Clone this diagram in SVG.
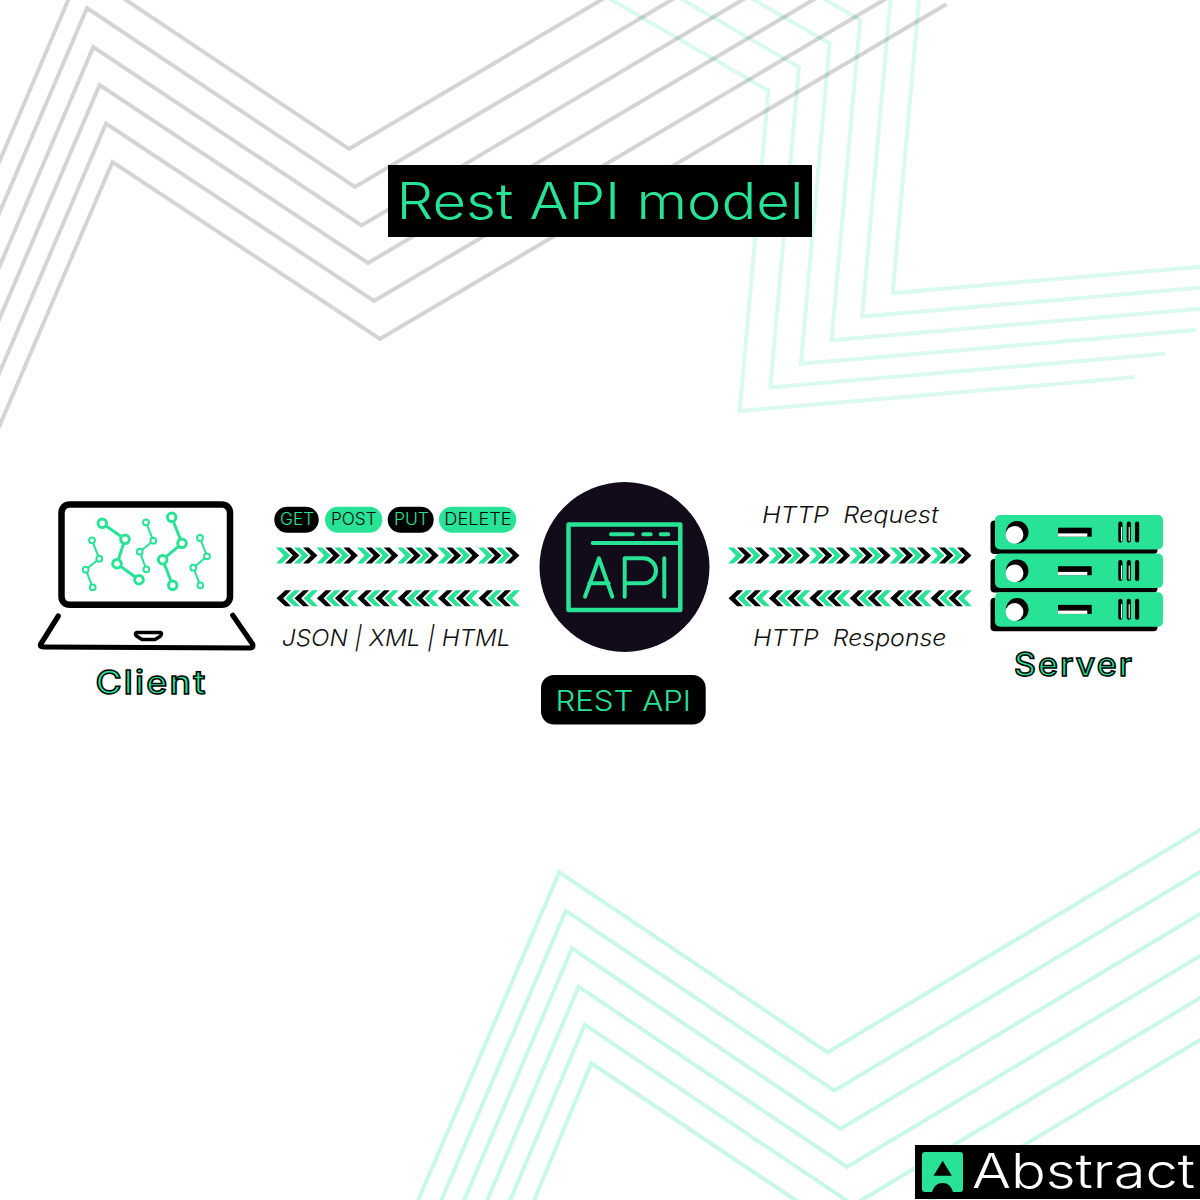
<svg xmlns="http://www.w3.org/2000/svg" width="1200" height="1200" viewBox="0 0 1200 1200">
<style>
text{font-family:"Inter","Liberation Sans",sans-serif;font-weight:300}
.g{fill:none;stroke:#000;stroke-opacity:.17;stroke-width:4}
.mt{fill:none;stroke:#26e39a;stroke-opacity:.17;stroke-width:4}
.mb{fill:none;stroke:#26e39a;stroke-opacity:.25;stroke-width:4}
.gt{fill:#28e296}
.kt{fill:#0a0a0a}
.it{font-style:italic;font-size:23px;fill:#111}
.pill{font-size:17px}
.lab{font-size:32px;font-weight:500;letter-spacing:2px;fill:#28e296;stroke:#000;stroke-width:1.5}
.ln{fill:none;stroke:#28e296;stroke-linecap:round;stroke-linejoin:round}
.net1{fill:#fff;stroke:#28e296;stroke-width:3}
.net2{fill:#fff;stroke:#28e296;stroke-width:2}
.lap{fill:none;stroke:#000;stroke-linecap:round;stroke-linejoin:round}
</style>
<defs>
<polygon id="cg" fill="#28e296" points="0,-8 5.800,-8 14.500,0 5.800,8 0,8 7.800,0"/>
<polygon id="ck" fill="#000" points="0,-8 5.800,-8 14.500,0 5.800,8 0,8 7.800,0"/>
<g id="four"><use href="#cg"/><use href="#cg" x="18"/><use href="#ck" x="9"/><use href="#ck" x="27"/></g>
<g id="row"><use href="#four"/><use href="#four" x="40.400"/><use href="#four" x="80.800"/><use href="#four" x="121.200"/><use href="#four" x="161.600"/><use href="#four" x="202"/></g>
<g id="unit">
<rect x="990.500" y="520.500" width="167" height="33.500" rx="4" fill="#000"/>
<rect x="995" y="515" width="168" height="34.500" rx="5" fill="#28e296"/>
<circle cx="1017.200" cy="532.200" r="11.300" fill="#000"/>
<circle cx="1014.500" cy="534.800" r="8.900" fill="#fff"/>
<rect x="1058" y="527.700" width="33.700" height="9" fill="#000"/>
<rect x="1058" y="533.400" width="29.300" height="3.300" fill="#fff"/>
<rect x="1118.300" y="521.500" width="4.200" height="21" rx="2" fill="#000"/>
<rect x="1126.700" y="521.500" width="4.200" height="21" rx="2" fill="#000"/>
<rect x="1135" y="521.500" width="4.200" height="21" rx="2" fill="#000"/>
<path d="M1121.500 527V541M1129.200 527V541" stroke="#fff" stroke-width="1.100" fill="none"/>
</g>
</defs>
<rect width="1200" height="1200" fill="#fff"/>
<g id="background">
<g id="mint-top">
<polyline class="mt" points="600,-6.600 768.400,90.700 739.700,411 1134.600,377.300"/>
<polyline class="mt" points="640.600,-24.600 799,67.100 770.300,387.400 1165.200,353.700"/>
<polyline class="mt" points="671.200,-48.200 829.600,43.500 800.900,363.800 1195.800,330.100"/>
<polyline class="mt" points="701.800,-71.800 860.200,19.900 831.500,340.200 1226.400,306.500"/>
<polyline class="mt" points="890.800,-3.700 862.100,316.600 1257,282.900"/>
<polyline class="mt" points="921.400,-27.300 892.700,293 1287.600,259.300"/>
</g>
<g id="gray-top">
<polyline class="g" points="-5,172 81,-30 349,149 613,-7"/>
<polyline class="g" points="-5,223 87,8 355,187 685,-8"/>
<polyline class="g" points="-5,277 93.300,47 361.500,225.500 751.500,-5.500"/>
<polyline class="g" points="-5,329 99.600,85 368,263 823,-6"/>
<polyline class="g" points="-5,383 106,123.500 374,301 894,-6"/>
<polyline class="g" points="-4,434 112.500,162 380,339 945,5" stroke-linecap="round"/>
</g>
<g id="mint-bottom">
<polyline class="mb" points="414,1210 559.200,872.300 827.600,1052.300 1210,824"/>
<polyline class="mb" points="437,1210 565.800,910.700 834.200,1090.700 1210,866"/>
<polyline class="mb" points="460,1210 572,948.300 840.300,1129 1210,908"/>
<polyline class="mb" points="483,1210 578.600,986.700 847,1167 1210,950"/>
<polyline class="mb" points="506,1210 584.700,1024.700 853.300,1205 1210,992"/>
<polyline class="mb" points="530,1210 591.300,1063.300 859.600,1243 1210,1034"/>
</g>
</g>
<g id="title">
<rect x="388" y="165" width="424" height="72" fill="#000"/>
<text class="gt" x="396.500" y="218.500" font-size="50" textLength="407" lengthAdjust="spacingAndGlyphs">Rest API model</text>
</g>
<g id="connectors">
<use href="#row" x="276" y="555.400"/>
<use href="#row" transform="translate(520,598.300) scale(-1,1)"/>
<use href="#row" x="728" y="555.600"/>
<use href="#row" transform="translate(972,598.300) scale(-1,1)"/>
</g>
<g id="client">
<rect x="61.500" y="504.500" width="168.500" height="100.300" rx="8" fill="none" stroke="#000" stroke-width="6.500"/>
<path class="lap" stroke-width="5.200" d="M58.300 616 L40.500 644.500 Q40 647 44 647 L250 648 Q254 647.500 252.500 644 L232.700 615.300"/>
<path class="lap" stroke-width="3.500" d="M137 632.500 H160 Q163 633 160 636.500 L155 639.500 H142 L136.500 636 Q134 633.500 137 632.500Z"/>
<path class="ln" stroke-width="3" d="M102.300 523.300 L125 539.300 L117 563.700 L139 579.700M171.700 517.300 L182 543.300 L162.700 559.700 L172.700 585.300"/>
<path class="ln" stroke-width="2" d="M92 540.300 L99.300 558.700 L85.700 569.700 L92.700 587.300M146 522.300 L153.300 540.700 L139.700 551.700 L146.300 569.300M200 538 L207 556.300 L193.300 567.700 L200.300 585.300"/>
<g class="net1"><circle cx="102.300" cy="523.300" r="4.300"/><circle cx="125" cy="539.300" r="4.300"/><circle cx="117" cy="563.700" r="4.300"/><circle cx="139" cy="579.700" r="4.300"/><circle cx="171.700" cy="517.300" r="4.300"/><circle cx="182" cy="543.300" r="4.300"/><circle cx="162.700" cy="559.700" r="4.300"/><circle cx="172.700" cy="585.300" r="4.300"/></g>
<g class="net2"><circle cx="92" cy="540.300" r="2.900"/><circle cx="99.300" cy="558.700" r="2.900"/><circle cx="85.700" cy="569.700" r="2.900"/><circle cx="92.700" cy="587.300" r="2.900"/><circle cx="146" cy="522.300" r="2.900"/><circle cx="153.300" cy="540.700" r="2.900"/><circle cx="139.700" cy="551.700" r="2.900"/><circle cx="146.300" cy="569.300" r="2.900"/><circle cx="200" cy="538" r="2.900"/><circle cx="207" cy="556.300" r="2.900"/><circle cx="193.300" cy="567.700" r="2.900"/><circle cx="200.300" cy="585.300" r="2.900"/></g>
<text class="lab" x="95.500" y="693.500" textLength="112" lengthAdjust="spacingAndGlyphs">Client</text>
</g>
<g id="methods">
<g id="m-get"><rect x="274.300" y="506.700" width="44.400" height="26" rx="13" fill="#000"/><text class="gt pill" x="280" y="525.300" textLength="34.300" lengthAdjust="spacingAndGlyphs">GET</text></g>
<g id="m-post"><rect x="325" y="506.700" width="57.300" height="26" rx="13" fill="#28e296"/><text class="kt pill" x="331" y="525.300" textLength="45.700" lengthAdjust="spacingAndGlyphs">POST</text></g>
<g id="m-put"><rect x="387.700" y="506.700" width="46" height="26" rx="13" fill="#000"/><text class="gt pill" x="394" y="525.300" textLength="35" lengthAdjust="spacingAndGlyphs">PUT</text></g>
<g id="m-delete"><rect x="439" y="506.700" width="77.300" height="26" rx="13" fill="#28e296"/><text class="kt pill" x="444.300" y="525.300" textLength="67.400" lengthAdjust="spacingAndGlyphs">DELETE</text></g>
</g>
<g id="labels">
<text class="it" x="282" y="646" textLength="228.500" lengthAdjust="spacingAndGlyphs">JSON | XML | HTML</text>
<text class="it" x="762" y="523" xml:space="preserve" textLength="176.500" lengthAdjust="spacingAndGlyphs">HTTP  Request</text>
<text class="it" x="753" y="646" xml:space="preserve" textLength="193.500" lengthAdjust="spacingAndGlyphs">HTTP  Response</text>
</g>
<g id="rest-api">
<circle cx="624.500" cy="567" r="85" fill="#110b1a"/>
<path class="ln" stroke-width="4.500" d="M568.500 524.600H680.300V610H568.500Z"/>
<path class="ln" stroke-width="4" d="M592.700 543H678M611 534.300H632.700M643.300 534.300H650.700M660.700 534.300H668.300"/>
<path class="ln" stroke-width="4" d="M585 596.700L599 558.300L612.300 596.700M589.300 583.300H608.700M624.700 596.700V558.300H643.500a12.500 12.500 0 0 1 0 25H624.700M664.300 558.300V596.700"/>
<rect x="541" y="675" width="164.700" height="49.500" rx="13" fill="#000"/>
<text class="gt" x="555.500" y="711" font-size="29" textLength="135.500" lengthAdjust="spacingAndGlyphs">REST API</text>
</g>
<g id="server">
<use href="#unit"/>
<use href="#unit" y="38.500"/>
<use href="#unit" y="77.200"/>
<text class="lab" x="1014" y="676" textLength="120" lengthAdjust="spacingAndGlyphs">Server</text>
</g>
<g id="logo">
<rect x="915" y="1145" width="285" height="54" fill="#000"/>
<path d="M925 1152H960a3 3 0 0 1 3 3V1189a3 3 0 0 1-3 3H953C951 1186 948 1183 942.700 1183S934 1186 932 1192H925a3 3 0 0 1-3-3V1155a3 3 0 0 1 3-3Z" fill="#28e296"/>
<polygon points="942.700,1160.700 951.800,1175.700 933.500,1175.700" fill="#000"/>
<text x="972" y="1188.400" font-size="48" fill="#fff" textLength="223" lengthAdjust="spacingAndGlyphs">Abstract</text>
</g>
</svg>
